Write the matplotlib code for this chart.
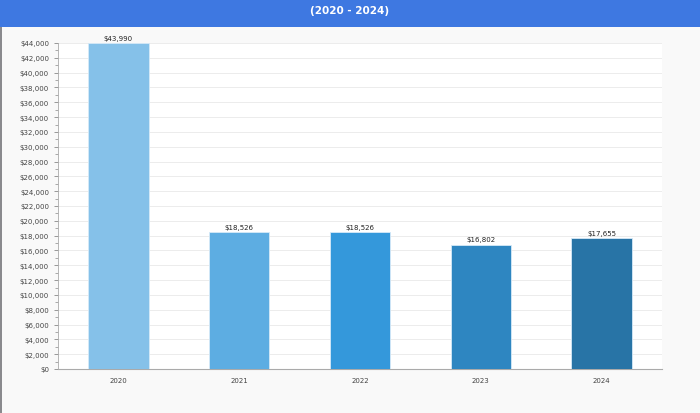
import matplotlib.pyplot as plt
from matplotlib.patches import Rectangle
from matplotlib.ticker import MultipleLocator, FuncFormatter

years = ['2020', '2021', '2022', '2023', '2024']
amounts = [43990, 18526, 18526, 16802, 17655]
bar_colors = ['#85c1e9', '#5dade2', '#3498db', '#2e86c1', '#2874a6']

fig = plt.figure(figsize=(7, 4.14), dpi=100, facecolor='#f9f9f9')

# header band and left frame edge
fig.patches.append(Rectangle((0, 1 - 28 / 414), 1, 28 / 414, transform=fig.transFigure,
                             facecolor='#3e78e1', edgecolor='none', zorder=0))
fig.patches.append(Rectangle((0, 0), 2 / 700, 1 - 28 / 414, transform=fig.transFigure,
                             facecolor='#8a8a8e', edgecolor='none', zorder=0))
fig.text(0.499, 1 - 11 / 414, '(2020 - 2024)', color='white', fontsize=7.5,
         fontweight='semibold', ha='center', va='center')

ax = fig.add_axes([58 / 700, 1 - 370 / 414, 604 / 700, 326 / 414])
ax.set_facecolor('white')
x = range(len(years))
ax.bar(x, amounts, width=0.5, color=bar_colors, edgecolor='#d6eaf8', linewidth=0.6, zorder=3)

# value labels
for i, v in enumerate(amounts):
    ax.text(i, v + 300, '${:,}'.format(v), ha='center', va='bottom', fontsize=5, color='#222222')

ax.set_xlim(-0.5, 4.5)
ax.set_ylim(0, 44000)
ax.set_xticks(list(x))
ax.set_xticklabels(years)
ax.yaxis.set_major_locator(MultipleLocator(2000))
ax.yaxis.set_minor_locator(MultipleLocator(1000))
ax.yaxis.set_major_formatter(FuncFormatter(lambda v, p: '${:,.0f}'.format(v)))
ax.grid(axis='y', color='#ececec', linewidth=0.7, zorder=0)
ax.tick_params(axis='both', labelsize=5, colors='#888888', labelcolor='#444444', length=3, width=0.6)
ax.tick_params(axis='x', length=0, pad=6)
ax.tick_params(axis='y', which='minor', length=2, width=0.5, colors='#888888')
for s in ['top', 'right']:
    ax.spines[s].set_visible(False)
ax.spines['left'].set_color('#aaaaaa')
ax.spines['bottom'].set_color('#aaaaaa')
ax.spines['left'].set_linewidth(0.6)
ax.spines['bottom'].set_linewidth(0.8)

plt.savefig('out.png', dpi=100, facecolor=fig.get_facecolor())
